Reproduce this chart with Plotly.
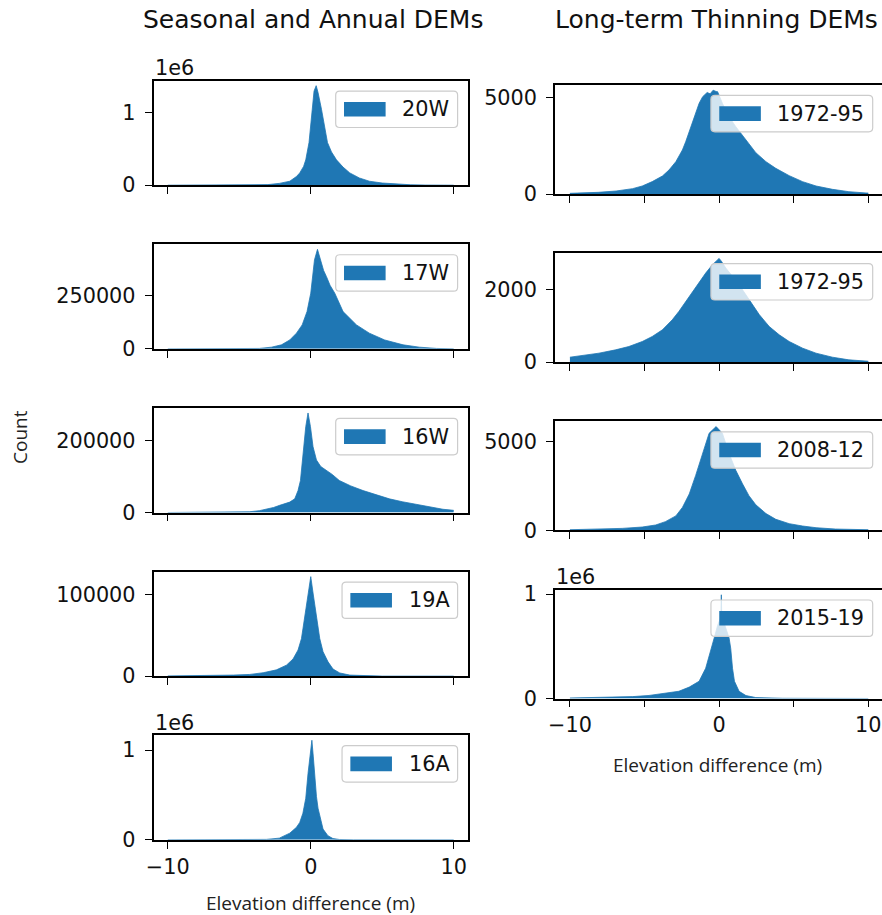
import plotly.graph_objects as go

# ------------------------------------------------------------------
# Data (bin centre in m, count)
# ------------------------------------------------------------------
labels = ["20W", "17W", "16W", "19A", "16A", "1972-95", "1972-95", "2008-12", "2015-19"]

x_20W = [-10, -4.0, -3.0, -2.2, -1.47, -1.0, -0.77, -0.5, -0.35, -0.12, 0.09, 0.23, 0.38, 0.51,
         0.75, 0.95, 1.17, 1.45, 1.8, 2.26, 2.73, 3.4, 4.1, 5.0, 6.0, 7.0, 8.0, 10]
y_20W = [0, 2000, 8000, 25000, 55000, 120000, 170000, 260000, 350000, 590000, 1050000, 1300000,
         1375000, 1280000, 1050000, 800000, 590000, 460000, 350000, 250000, 170000, 100000,
         55000, 30000, 14000, 6000, 2000, 0]

x_17W = [-10, -4.5, -3.6, -2.75, -2.05, -1.47, -1.0, -0.6, -0.26, 0.0, 0.12, 0.26, 0.47, 0.7,
         0.9, 1.1, 1.35, 1.68, 2.26, 3.2, 4.1, 5.17, 6.46, 7.6, 8.8, 10]
y_17W = [0, 500, 2000, 8000, 19000, 42000, 74000, 113000, 176000, 263000, 341000, 420000,
         470000, 420000, 370000, 341000, 300000, 263000, 176000, 113000, 74000, 42000, 19000,
         8000, 2000, 0]

x_16W = [-10, -5.5, -4.3, -3.6, -2.6, -2.17, -1.47, -1.12, -0.89, -0.72, -0.65, -0.58, -0.49,
         -0.35, -0.19, -0.02, 0.16, 0.4, 0.7, 1.1, 1.5, 2.0, 2.8, 3.66, 4.5, 5.5, 6.4, 7.4, 8.3,
         9.25, 10]
y_16W = [0, 500, 2000, 5000, 14000, 20000, 29000, 38000, 61000, 89000, 117000, 146000, 183000,
         239000, 277000, 239000, 183000, 146000, 128000, 117000, 106000, 89000, 74000, 61000,
         50000, 38000, 30000, 23000, 16000, 9000, 6000]

x_19A = [-10, -7.8, -5.4, -4.27, -3.33, -2.4, -1.7, -1.24, -0.89, -0.65, -0.42, -0.19, 0.0,
         0.16, 0.4, 0.63, 0.86, 1.21, 1.56, 2.03, 2.73, 3.9, 5.0, 10]
y_19A = [300, 500, 1300, 2100, 4200, 7700, 13500, 21000, 32000, 46000, 72000, 102000, 122000,
         102000, 72000, 46000, 30000, 17500, 8700, 3900, 1300, 300, 50, 0]

x_16A = [-10, -5, -3.1, -2.2, -1.47, -1.0, -0.77, -0.55, -0.35, -0.19, -0.05, 0.08, 0.18, 0.28,
         0.4, 0.51, 0.68, 0.86, 1.2, 1.55, 2.0, 3.0, 10]
y_16A = [0, 1000, 4600, 18500, 74000, 139000, 194000, 296000, 463000, 740000, 971000, 1110000,
         925000, 694000, 481000, 352000, 222000, 120000, 46000, 14000, 3700, 900, 0]

x_7295a = [-10, -9.2, -8.1, -6.9, -5.8, -5.15, -4.48, -3.8, -3.36, -2.9, -2.46, -2.24, -2.0,
           -1.8, -1.57, -1.34, -1.1, -0.8, -0.6, -0.4, -0.2, -0.1, 0.22, 0.67, 1.12, 1.57, 2.0,
           2.46, 3.14, 3.8, 4.7, 5.6, 6.5, 7.6, 8.7, 9.85, 10]
y_7295a = [35, 52, 86, 155, 276, 414, 640, 930, 1240, 1670, 2276, 2700, 3220, 3740, 4260, 4690,
           5034, 5250, 5180, 5368, 5300, 5290, 4690, 4000, 3480, 3050, 2600, 2138, 1672, 1328,
           948, 638, 414, 241, 120, 52, 50]

x_7295b = [-10, -9.18, -8.06, -6.94, -6.05, -5.15, -4.48, -3.8, -3.14, -2.7, -2.24, -1.8, -1.34,
           -0.9, -0.45, -0.15, 0.0, 0.15, 0.45, 0.9, 1.34, 1.8, 2.24, 2.7, 3.36, 4.03, 4.7, 5.6,
           6.5, 7.6, 8.7, 9.85, 10]
y_7295b = [138, 184, 249, 341, 433, 571, 710, 894, 1170, 1400, 1677, 1954, 2230, 2460, 2690,
           2800, 2866, 2790, 2600, 2370, 2140, 1860, 1585, 1310, 986, 756, 571, 387, 249, 138,
           65, 28, 27]

x_0812 = [-10, -8.1, -6.5, -5.15, -4.25, -3.6, -2.9, -2.46, -2.0, -1.57, -1.12, -0.67, -0.2,
          0.22, 0.67, 1.12, 1.57, 2.0, 2.46, 3.14, 3.8, 4.7, 5.6, 6.5, 7.8, 9.85, 10]
y_0812 = [38, 57, 114, 190, 304, 494, 817, 1293, 2053, 3100, 4335, 5475, 5849, 5475, 4335, 3384,
          2624, 1958, 1445, 950, 627, 380, 247, 152, 76, 38, 38]

x_1519 = [-10, -8.0, -6.9, -5.8, -4.7, -3.8, -2.7, -2.0, -1.34, -0.9, -0.5, -0.29, -0.1, 0.05,
          0.12, 0.15, 0.18, 0.3, 0.5, 0.67, 0.78, 0.9, 1.03, 1.34, 1.8, 2.46, 4.25, 10]
y_1519 = [6000, 10000, 13000, 19000, 30000, 45000, 70000, 110000, 166000, 290000, 480000,
          600000, 700000, 760000, 780000, 993000, 780000, 740000, 660000, 580000, 480000,
          290000, 166000, 70000, 29000, 10000, 3000, 1000]

# y tick values / labels per panel
ytick_vals = [[0, 1000000], [0, 250000], [0, 200000], [0, 100000], [0, 1000000],
              [0, 5000], [0, 2000], [0, 5000], [0, 1000000]]
ytick_text = [["0", "1"], ["0", "250000"], ["0", "200000"], ["0", "100000"], ["0", "1"],
              ["0", "5000"], ["0", "2000"], ["0", "5000"], ["0", "1"]]
offset_text = ["1e6", "", "", "", "1e6", "", "", "", "1e6"]

xtick_left_vals = [-10, 0, 10]
xtick_left_text = ["\u221210", "0", "10"]
xtick_right_vals = [-10, -5, 0, 5, 10]
xtick_right_text = ["\u221210", "", "0", "", "10"]

col_titles = ["Seasonal and Annual DEMs", "Long-term Thinning DEMs"]
x_label = "Elevation difference (m)"
y_label = "Count"

xs = [x_20W, x_17W, x_16W, x_19A, x_16A, x_7295a, x_7295b, x_0812, x_1519]
ys = [y_20W, y_17W, y_16W, y_19A, y_16A, y_7295a, y_7295b, y_0812, y_1519]

# ------------------------------------------------------------------
# Layout geometry (pixels)
# ------------------------------------------------------------------
W, H = 882, 915
BLUE = "#1f77b4"
FS = 20.8                 # tick / legend font size
TICK_FONT = "DejaVu Sans"
LABEL_FONT = "Open Sans"

cols = {
    "L": dict(x0=153.5, x1=468.0, xr=[-11, 11], ax_right=468.0),
    "R": dict(x0=555.0, x1=882.0, xr=[-11, 10.92], ax_right=883.1),
}
L_TOP, L_STEP, L_H = 80.7, 163.65, 104.5
R_TOP, R_STEP, R_H = 85.0, 168.2, 109.0
rows = [("L", L_TOP + k * L_STEP, L_TOP + k * L_STEP + L_H) for k in range(5)] + \
       [("R", R_TOP + k * R_STEP, R_TOP + k * R_STEP + R_H) for k in range(4)]
bottom_panels = {4, 8}


def fx(px):
    return px / W


def fy(py):
    return 1 - py / H


char_w = {c: 0.636 for c in "0123456789"}
char_w.update({"W": 0.989, "A": 0.684, "-": 0.361})


def text_width(s):
    return sum(char_w.get(c, 0.6) for c in s) * FS


def rounded_rect(x0, y0, x1, y1, r):
    pts = [
        f"M{fx(x0 + r)},{fy(y0)}",
        f"L{fx(x1 - r)},{fy(y0)}",
        f"Q{fx(x1)},{fy(y0)} {fx(x1)},{fy(y0 + r)}",
        f"L{fx(x1)},{fy(y1 - r)}",
        f"Q{fx(x1)},{fy(y1)} {fx(x1 - r)},{fy(y1)}",
        f"L{fx(x0 + r)},{fy(y1)}",
        f"Q{fx(x0)},{fy(y1)} {fx(x0)},{fy(y1 - r)}",
        f"L{fx(x0)},{fy(y0 + r)}",
        f"Q{fx(x0)},{fy(y0)} {fx(x0 + r)},{fy(y0)}",
        "Z",
    ]
    return " ".join(pts)


fig = go.Figure()
layout = {}
shapes = []
annotations = []

for i, (col, top, bot) in enumerate(rows):
    c = cols[col]
    n = "" if i == 0 else str(i + 1)
    xa, ya = "x" + n, "y" + n
    fig.add_trace(go.Scatter(
        x=xs[i], y=ys[i], xaxis=xa, yaxis=ya, mode="lines", fill="tozeroy",
        line=dict(color=BLUE, width=0.8), fillcolor=BLUE, showlegend=False,
        hoverinfo="skip"))

    is_bottom = i in bottom_panels
    layout["xaxis" + n] = dict(
        domain=[fx(c["x0"]), fx(c["x1"])], range=c["xr"], anchor=ya,
        showgrid=False, zeroline=False, showline=True, linecolor="black", linewidth=1.5,
        mirror=True, ticks="outside", ticklen=7, tickwidth=1.4, tickcolor="black",
        tickmode="array",
        tickvals=xtick_left_vals if col == "L" else xtick_right_vals,
        ticktext=xtick_left_text if col == "L" else xtick_right_text,
        showticklabels=is_bottom, ticklabelstandoff=0,
        tickfont=dict(family=TICK_FONT, size=FS, color="#111111"),
    )
    layout["yaxis" + n] = dict(
        domain=[fy(bot), fy(top)], range=[0, max(ys[i]) * 1.05], anchor=xa,
        showgrid=False, zeroline=False, showline=True, linecolor="black", linewidth=1.5,
        mirror=(col == "L"), ticks="outside", ticklen=7, tickwidth=1.4, tickcolor="black",
        tickmode="array", tickvals=ytick_vals[i], ticktext=ytick_text[i],
        ticklabelstandoff=5,
        tickfont=dict(family=TICK_FONT, size=FS, color="#111111"),
    )

    # offset text (1e6)
    if offset_text[i]:
        annotations.append(dict(
            text=offset_text[i], xref="paper", yref="paper", x=fx(c["x0"] - 1),
            y=fy(top + 1.5), xanchor="left", yanchor="bottom", showarrow=False,
            font=dict(family=TICK_FONT, size=FS, color="#111111")))

    # legend box (matplotlib style, upper right)
    tw = text_width(labels[i])
    bx1 = c["ax_right"] - 0.5 * FS
    by0 = top + 0.5 * FS
    bw = 3.6 * FS + tw
    bh = 1.75 * FS
    bx0 = bx1 - bw
    by1 = by0 + bh
    shapes.append(dict(type="path", xref="paper", yref="paper",
                       path=rounded_rect(bx0, by0, bx1, by1, 4),
                       fillcolor="rgba(255,255,255,0.8)",
                       line=dict(color="#cccccc", width=1.2), layer="above"))
    cy = (by0 + by1) / 2
    px0 = bx0 + 0.4 * FS
    px1 = px0 + 2.0 * FS
    shapes.append(dict(type="rect", xref="paper", yref="paper",
                       x0=fx(px0), x1=fx(px1), y0=fy(cy - 0.35 * FS), y1=fy(cy + 0.35 * FS),
                       fillcolor=BLUE, line=dict(width=0), layer="above"))
    annotations.append(dict(
        text=labels[i], xref="paper", yref="paper", x=fx(px1 + 0.8 * FS - 2), y=fy(cy),
        xanchor="left", yanchor="middle", showarrow=False,
        font=dict(family=TICK_FONT, size=FS, color="#111111")))

# column titles
annotations.append(dict(text=col_titles[0], xref="paper", yref="paper", x=fx(313), y=fy(19),
                        xanchor="center", yanchor="middle", showarrow=False,
                        font=dict(family=TICK_FONT, size=25, color="#111111")))
annotations.append(dict(text=col_titles[1], xref="paper", yref="paper", x=fx(716.5), y=fy(19),
                        xanchor="center", yanchor="middle", showarrow=False,
                        font=dict(family=TICK_FONT, size=25, color="#111111")))
# axis labels
annotations.append(dict(text=y_label, xref="paper", yref="paper", x=fx(20), y=fy(437),
                        xanchor="center", yanchor="middle", showarrow=False, textangle=-90,
                        font=dict(family=LABEL_FONT, size=19, color="#222222")))
annotations.append(dict(text=x_label, xref="paper", yref="paper", x=fx(310), y=fy(903),
                        xanchor="center", yanchor="middle", showarrow=False,
                        font=dict(family=LABEL_FONT, size=19, color="#222222")))
annotations.append(dict(text=x_label, xref="paper", yref="paper", x=fx(717.5), y=fy(765),
                        xanchor="center", yanchor="middle", showarrow=False,
                        font=dict(family=LABEL_FONT, size=19, color="#222222")))

fig.update_layout(
    width=W, height=H, template="none",
    margin=dict(l=0, r=0, t=0, b=0, pad=0),
    paper_bgcolor="white", plot_bgcolor="white",
    showlegend=False, shapes=shapes, annotations=annotations,
    **layout,
)

fig.write_html("out.html")
